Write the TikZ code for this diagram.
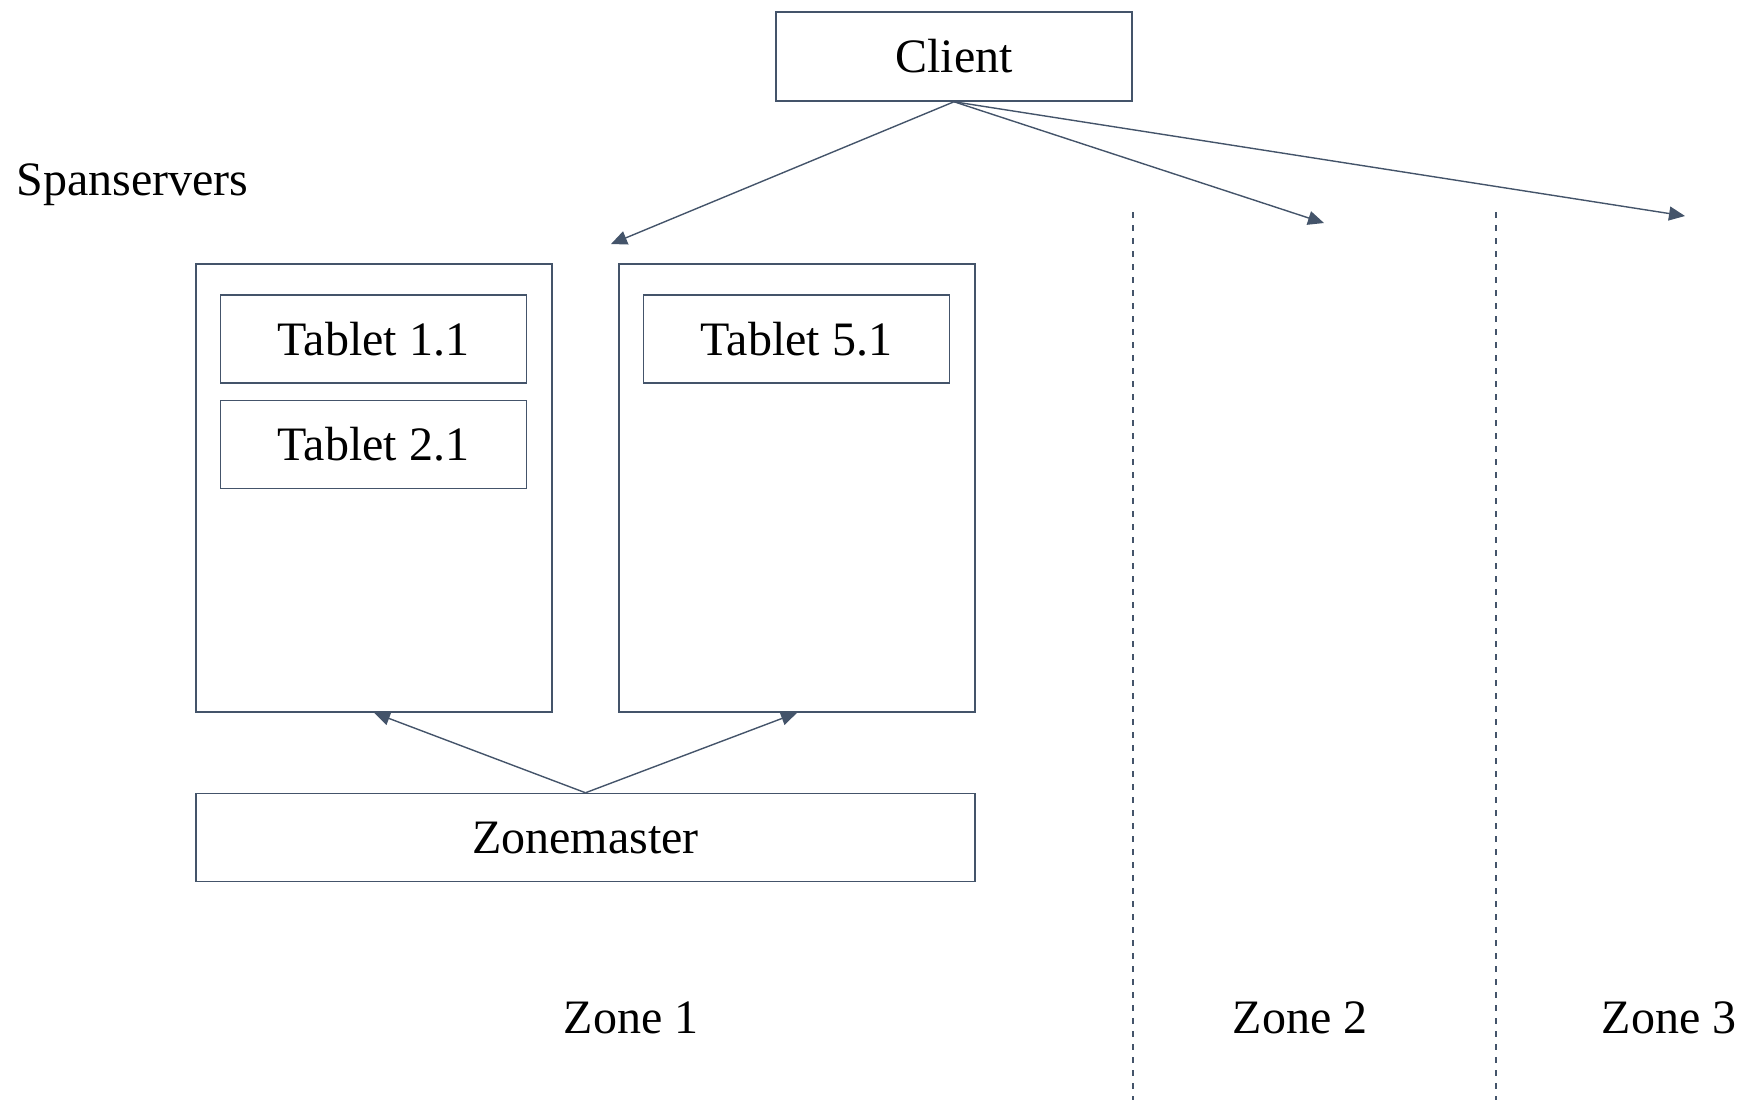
\documentclass[tikz,border=0pt]{standalone}
\usepackage{fontspec}
\setmainfont{Liberation Serif}
\usetikzlibrary{arrows.meta}
\definecolor{linecol}{HTML}{44546A}
\tikzset{
  box/.style={draw=linecol, line width=0.75pt, rectangle, inner sep=0pt, fill=white,
              font=\fontsize{24}{29}\selectfont},
  server/.style={box, minimum width=178pt, minimum height=224pt},
  tablet/.style={box, minimum width=153pt, minimum height=44pt},
  arr/.style={draw=linecol, line width=0.7pt, -{Triangle[length=8pt,width=7pt]}},
  zoneline/.style={draw=linecol, line width=0.6pt, dash pattern=on 3pt off 3.5pt},
  label/.style={inner sep=0pt, font=\fontsize{24}{29}\selectfont},
}
\begin{document}
\begin{tikzpicture}[x=0.5pt, y=-0.5pt]
  \useasboundingbox (0,0) rectangle (1745,1100);

  % zone separators
  \coordinate (d1top) at (1133,212);
  \coordinate (d1bot) at (1133,1100);
  \coordinate (d2top) at (1496,212);
  \coordinate (d2bot) at (1496,1100);
  \draw[zoneline] (d1top) -- (d1bot);
  \draw[zoneline] (d2top) -- (d2bot);

  % client
  \node[box, minimum width=178pt, minimum height=44.5pt] (client) at (954,56.5) {Client};

  % spanservers of zone 1
  \node[label, anchor=base west] (spanlbl) at (16,195) {Spanservers};
  \node[server] (s1) at (374,488) {};
  \node[server] (s2) at (797,488) {};
  \node[tablet] (t11) at (373.5,339) {Tablet 1.1};
  \node[tablet] (t21) at (373.5,444.5) {Tablet 2.1};
  \node[tablet] (t51) at (796.5,339) {Tablet 5.1};

  % zonemaster
  \node[box, minimum width=389.5pt, minimum height=44pt] (zm) at (585.5,837.5) {Zonemaster};

  % zone labels
  \node[label] (z1) at (631,1018) {Zone 1};
  \node[label] (z2) at (1300,1018) {Zone 2};
  \node[label] (z3) at (1669,1018) {Zone 3};

  % requests from the client to each zone
  \coordinate (tip1) at (611,244);
  \coordinate (tip2) at (1324,223);
  \coordinate (tip3) at (1685,216);
  \draw[arr] (client.south) -- (tip1);
  \draw[arr] (client.south) -- (tip2);
  \draw[arr] (client.south) -- (tip3);

  % zonemaster assigns data to spanservers
  \draw[arr] (zm.north) -- (s1.south);
  \draw[arr] (zm.north) -- (s2.south);
\end{tikzpicture}
\end{document}
